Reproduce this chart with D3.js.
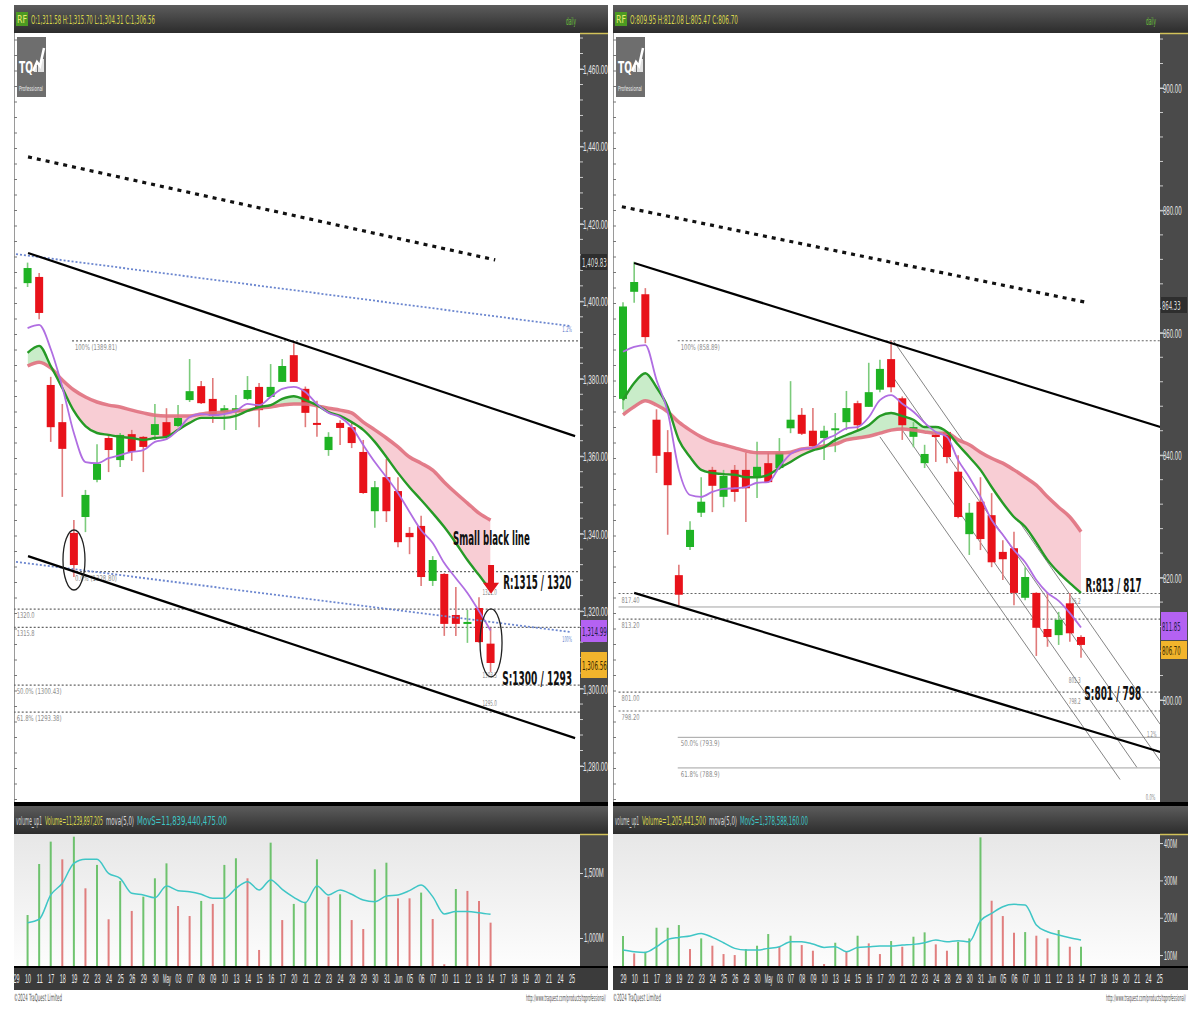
<!DOCTYPE html>
<html><head><meta charset="utf-8">
<script src="https://cdn.jsdelivr.net/npm/d3@7/dist/d3.min.js"></script>
<style>body{margin:0;background:#fff;}svg{display:block;font-family:"Liberation Sans Narrow","DejaVu Sans Condensed","Liberation Sans",sans-serif;}</style>
</head><body><svg id="c" width="1200" height="1011"></svg>
<script>
// ---------------- DATA ----------------
const dateLabels = ["29","10","11","17","18","19","22","23","24","25","26","29","30","May","03","07","08","09","10","13","14","15","16","17","20","21","22","23","24","28","29","30","31","Jun","05","06","07","10","11","12","13","14","17","18","19","20","21","24","25"];

// Left chart (price)
const leftOpen  = [1404.7,1406.3,1378.4,1368.8,1340.2,1344.3,1353.9,1364.7,1359.0,1365.7,1365.0,1365.5,1368.8,1367.8,1374.5,1378.1,1374.8,1371.4,1371.4,1374.8,1377.9,1375.3,1379.2,1386.1,1377.4,1368.6,1361.6,1368.6,1367.5,1361.1,1345.8,1354.6,1351.0,1340.2,1342.0,1327.8,1329.6,1319.0,1316.7,1320.8,1311.6];
const leftHigh  = [1410.0,1407.3,1380.5,1373.5,1343.5,1351.3,1363.1,1365.5,1366.0,1366.8,1365.2,1373.5,1372.4,1373.2,1385.1,1379.4,1380.2,1373.2,1375.8,1380.7,1378.9,1383.8,1385.1,1389.2,1378.0,1374.3,1366.2,1369.3,1368.6,1364.2,1353.6,1359.3,1354.6,1341.7,1344.6,1334.2,1329.8,1326.2,1320.3,1323.6,1315.7];
const leftLow   = [1403.7,1395.4,1363.7,1349.5,1328.8,1340.4,1353.3,1355.9,1357.2,1358.8,1355.9,1364.2,1364.2,1367.5,1374.0,1373.5,1368.6,1366.8,1366.8,1374.5,1367.5,1375.3,1379.2,1379.2,1367.5,1365.0,1360.1,1362.9,1362.1,1350.3,1341.5,1343.0,1336.5,1334.7,1326.5,1326.5,1313.6,1313.6,1311.8,1311.8,1304.3];
const leftClose = [1408.6,1397.0,1367.5,1361.9,1331.9,1350.0,1358.0,1361.6,1365.5,1361.1,1362.4,1368.3,1365.0,1369.9,1376.8,1373.7,1370.4,1372.4,1372.4,1377.1,1371.9,1377.9,1383.3,1379.2,1371.2,1368.1,1365.0,1367.3,1363.4,1350.5,1352.0,1345.8,1337.8,1339.1,1328.8,1333.2,1316.7,1316.7,1317.2,1312.0,1306.6];
const leftMaFast = [1393.1,1393.9,1387.7,1377.9,1366.0,1358.5,1358.2,1359.5,1360.3,1361.1,1361.6,1363.7,1364.4,1366.8,1370.1,1370.9,1370.6,1370.9,1371.7,1373.5,1373.2,1375.3,1377.4,1377.9,1376.6,1373.5,1371.2,1370.1,1367.5,1362.9,1358.5,1354.6,1350.5,1345.6,1340.9,1337.6,1332.4,1328.5,1324.7,1320.0,1315.0];
const leftMaMid  = [1386.7,1388.5,1383.3,1377.6,1371.7,1367.8,1366.0,1365.5,1365.0,1364.7,1364.2,1364.7,1365.0,1366.8,1368.6,1369.9,1369.9,1369.9,1370.4,1371.7,1372.7,1373.2,1374.8,1375.5,1374.5,1373.2,1371.4,1370.4,1368.8,1366.8,1363.7,1359.8,1355.7,1352.0,1348.7,1345.3,1341.7,1337.6,1333.2,1329.3,1325.4];
const leftMaSlow = [1383.3,1384.3,1382.8,1379.7,1377.1,1375.3,1374.0,1373.2,1372.7,1371.9,1371.2,1370.6,1370.4,1370.4,1370.4,1370.9,1371.2,1371.4,1371.7,1371.9,1372.4,1372.7,1373.2,1373.5,1373.5,1373.0,1372.4,1371.9,1371.2,1368.8,1366.8,1364.7,1362.4,1359.8,1358.2,1356.4,1353.3,1350.5,1347.9,1345.3,1343.5];
const leftVolume = [1177,1569,1741,1605,1779,1382,1562,1144,1438,1208,1318,1459,1574,1246,1169,1285,1262,1562,1613,1459,908,1733,1138,1262,1279,1605,1318,1336,1138,1069,1528,1579,1305,1305,1349,1146,798,1377,1362,1285,1118];
const leftVolumeUp = [1,1,1,0,1,0,1,0,1,0,1,1,1,0,0,1,0,1,1,0,0,1,0,1,1,1,0,1,0,0,1,1,0,0,1,0,0,1,0,0,0];
const leftVolumeMa = [1118,1144,1331,1421,1574,1605,1605,1497,1459,1344,1331,1310,1400,1364,1356,1336,1305,1305,1382,1433,1369,1446,1374,1313,1272,1400,1331,1369,1336,1292,1279,1323,1331,1364,1408,1318,1185,1203,1203,1195,1182];
const leftPriceTicks = [1280,1300,1320,1340,1360,1380,1400,1420,1440,1460];
const leftVolumeTicks = [1000,1500];
const leftLevels = [1389.8,1330.2,1320.5,1315.8,1300.9,1293.9];
const leftLevelLabels = ["100% (1389.81)","0.0% (1328.80)","1320.0","1315.8","50.0% (1300.43)","61.8% (1293.38)"];
const leftSmallLabels = [[40.3,1324.2,"1321.0"],[40.3,1302.6,"1303.5"],[40.3,1295.6,"1295.0"],[47.2,1392.0,"1.2%"],[47.2,1312.0,"100%"]];
const leftTrendDotted = [[1.04,1437.3],[41.4,1410.7]];
const leftTrendUpper = [[1.04,1412.5],[48.3,1365.2]];
const leftTrendLower = [[1.04,1334.2],[48.3,1287.2]];
const leftBlueUpper = [[0,1412.2],[47.9,1393.6]];
const leftBlueLower = [[0,1332.7],[47.9,1314.6]];

// Right chart (price)
const rightOpen  = [849.2,866.7,866.3,845.8,840.5,820.4,825.0,830.6,837.6,833.2,837.6,837.6,836.4,838.7,837.9,844.4,846.6,844.0,842.8,844.1,845.4,848.5,847.9,850.7,855.7,849.3,843.0,838.7,843.3,843.8,837.3,827.1,832.4,830.2,824.2,824.8,816.7,817.5,811.6,810.6,815.8,810.3];
const rightHigh  = [865.0,871.6,867.3,847.5,844.1,822.1,829.2,836.4,838.1,837.6,838.4,840.4,842.2,840.4,842.8,852.1,847.7,847.7,844.8,846.9,850.5,848.9,855.1,855.6,858.7,849.6,845.4,841.7,843.8,843.9,840.0,832.2,836.4,833.8,826.1,827.5,821.7,817.6,817.5,814.4,817.5,810.6];
const rightLow   = [847.5,864.9,858.3,837.1,827.0,815.5,824.5,829.9,830.7,831.5,832.4,829.1,833.0,835.5,837.6,843.6,843.3,840.8,839.2,840.5,844.1,844.1,847.9,850.3,850.3,842.5,841.3,837.9,838.9,838.7,829.7,823.7,824.5,821.7,819.6,815.5,816.3,807.2,808.7,809.0,809.5,806.9];
const rightClose = [864.3,868.3,859.3,839.9,835.1,817.2,827.8,832.4,835.0,836.6,834.0,834.6,838.1,835.6,840.4,845.8,843.5,841.5,844.0,844.4,847.7,844.9,850.3,854.1,851.1,844.9,844.6,840.2,843.0,839.7,829.9,830.6,826.3,822.5,823.0,817.5,820.1,811.8,810.3,813.1,810.9,809.0];
const rightMaFast = [856.9,857.7,858.0,852.3,847.1,837.6,833.5,833.2,834.0,834.5,834.6,834.8,835.5,835.6,838.1,840.2,841.0,841.2,842.5,843.3,844.4,844.6,846.2,849.0,849.8,848.4,847.1,845.3,843.8,843.0,839.2,836.4,833.2,829.4,827.0,824.5,822.5,819.6,817.5,816.2,814.2,811.85];
const rightMaMid  = [849.0,851.8,853.4,851.1,847.9,842.5,839.7,837.6,837.1,836.9,836.8,836.4,836.4,836.8,837.9,838.9,840.0,840.8,841.3,842.5,843.3,844.0,844.9,846.4,846.9,846.4,845.8,844.6,844.6,843.8,841.7,839.7,837.6,834.8,832.2,829.9,828.3,825.7,822.9,820.8,819.1,817.5];
const rightMaSlow = [846.6,847.9,848.9,848.2,847.1,845.4,844.1,843.0,842.2,841.7,841.2,840.7,840.4,840.4,840.4,840.5,841.0,841.2,841.5,841.8,842.5,842.8,843.1,843.6,844.1,844.3,844.1,843.8,843.6,843.6,842.5,841.7,840.5,839.5,838.7,837.6,836.4,835.1,833.2,831.5,829.9,827.5];
const rightVolume = [150.9,104.5,108.9,173.2,173.2,180.4,116.1,144.7,125.0,102.7,100.0,116.1,125.0,156.3,122.3,151.8,126.8,111.6,75.9,133.0,108.9,151.8,131.3,102.7,137.5,122.3,149.1,160.8,128.6,111.6,135.7,144.7,415.3,245.5,204.5,159.8,161.6,151.8,144.7,167.0,122.3,122.3];
const rightVolumeUp = [1,0,1,1,1,1,0,1,0,0,0,1,1,1,0,1,0,0,0,1,0,1,0,0,1,0,1,1,0,0,1,1,1,0,0,0,1,0,0,1,0,1];
const rightVolumeMa = [113.4,108.9,107.1,122.3,141.9,147.3,150.9,158.0,147.3,133.0,117.9,113.4,113.4,117.9,122.3,135.7,135.7,129.5,120.5,122.3,108.9,120.5,122.3,124.1,124.1,126.8,128.6,133.0,140.2,135.7,138.4,135.7,192.0,211.6,229.5,235.8,233.9,180.4,162.5,153.6,146.4,140.2];
const rightPriceTicks = [800,820,840,860,880,900];
const rightVolumeTicks = [100,200,300,400];
const rightLevels = [858.7,817.4,813.2,801.3,798.2];
const rightLevelLabels = ["100% (858.89)","817.40","813.20","801.00","798.20"];
const rightThinLevels = [815.2,793.9,788.9];
const rightThinLabels = ["","50.0% (793.9)","61.8% (788.9)"];
const rightSmallLabels = [[39.9,819.8,"817.4"],[39.9,815.7,"815.2"],[39.9,802.8,"801.3"],[39.9,799.3,"798.2"],[46.9,794.0,"1.2%"],[46.8,783.6,"0.0%"]];
const rightTrendDotted = [[-0.1,880.6],[41.4,865.0]];
const rightTrendUpper = [[1.0,871.4],[48.1,844.6]];
const rightTrendLower = [[1.0,817.5],[48.1,791.5]];
const rightChannel = [[[24.2,858.7],[48.1,796.0]],[[24.2,852.7],[48.1,790.0]],[[24.2,846.2],[46.0,789.0]],[[23.0,843.0],[44.5,787.0]]];

// ---------------- DRAW ----------------
const svg = d3.select('#c');
const defs = svg.append('defs');
const hg = defs.append('linearGradient').attr('id','hdr').attr('x1',0).attr('y1',0).attr('x2',0).attr('y2',1);
hg.append('stop').attr('offset',0).attr('stop-color','#5c5c5c');
hg.append('stop').attr('offset',1).attr('stop-color','#2c2c2c');
const vg = defs.append('linearGradient').attr('id','volbg').attr('x1',0).attr('y1',0).attr('x2',0).attr('y2',1);
vg.append('stop').attr('offset',0).attr('stop-color','#e7e7e7');
vg.append('stop').attr('offset',1).attr('stop-color','#fdfdfd');

// condensed text: squeezed horizontally to width w via transform
function squeeze(t, x, y, w, anchor) {
  const nat = t.node().getComputedTextLength() || 1;
  const ww = w || nat;
  let x0 = x;
  if (anchor === 'end') x0 = x - ww; else if (anchor === 'middle') x0 = x - ww / 2;
  t.attr('x', null).attr('y', null).attr('dy', null).attr('text-anchor', 'start')
   .attr('transform', `translate(${x0},${y}) scale(${ww / nat},1)`);
  return t;
}
function txt(g, x, y, s, o) {
  const t = g.append('text').text(s).attr('font-size', o.size || 10).attr('fill', o.fill || '#000');
  if (o.weight) t.attr('font-weight', o.weight);
  return squeeze(t, x, y, o.w, o.anchor);
}

function drawPanel(P) {
  const g = svg.append('g');
  const W = P.axisX - P.left;
  // header
  g.append('rect').attr('x', P.left).attr('y', 5).attr('width', P.right - P.left).attr('height', 28).attr('fill', 'url(#hdr)');
  g.append('rect').attr('x', P.left + 2).attr('y', 12).attr('width', 12).attr('height', 14).attr('fill', '#4c9a22');
  txt(g, P.left + 3, 23, 'RF', {size: 10, fill: '#e8e870', w: 10});
  txt(g, P.left + 17, 24, P.header, {size: 12, fill: '#d9d64a', w: P.headerW});
  txt(g, P.axisX - 4, 25, 'daily', {size: 11, fill: '#6cc43a', w: 10, anchor: 'end'});
  // chart & axis backgrounds
  g.append('rect').attr('x', P.left).attr('y', 33).attr('width', W).attr('height', 770).attr('fill', '#fff');
  g.append('rect').attr('x', P.axisX).attr('y', 33).attr('width', P.right - P.axisX).attr('height', 770).attr('fill', '#4a4a4a');
  g.append('line').attr('x1', P.axisX).attr('x2', P.right).attr('y1', 33.5).attr('y2', 33.5).attr('stroke', '#d2c25a').attr('stroke-width', 1.5);
  g.append('line').attr('x1', P.left + 0.5).attr('x2', P.left + 0.5).attr('y1', 33).attr('y2', 803).attr('stroke', '#9a9a9a');

  const x = d3.scaleLinear().domain([0, 48]).range(P.xRange);
  const y = d3.scaleLinear().domain(P.yDomain).range(P.yRange);
  const cx = i => x(i + P.off);
  const pt = p => [x(p[0]), y(p[1])];

  const clipId = 'clip' + P.id;
  defs.append('clipPath').attr('id', clipId).append('rect').attr('x', P.left).attr('y', 33).attr('width', W).attr('height', 770);
  const c = g.append('g').attr('clip-path', `url(#${clipId})`);

  d3.range(40, 800, 15.5).forEach(yy => c.append('line').attr('x1', P.left).attr('x2', P.left + 3).attr('y1', yy).attr('y2', yy).attr('stroke', '#777'));

  // logo
  const lg = g.append('g');
  lg.append('rect').attr('x', P.left + 3).attr('y', 37).attr('width', 29).attr('height', 60).attr('fill', '#6e6e6e');
  txt(lg, P.left + 5, 73, 'TQ', {size: 16, fill: '#fff', weight: 'bold', w: 14});
  lg.append('path').attr('d', `M${P.left+19},71 L${P.left+23},62 L${P.left+26},66 L${P.left+30},48`).attr('stroke', '#fff').attr('stroke-width', 2.5).attr('fill', 'none');
  [[20,66,3,6],[24,63,3,9],[27,59,3,13]].forEach(b => lg.append('rect').attr('x', P.left + b[0]).attr('y', b[1]).attr('width', b[2]).attr('height', b[3]).attr('fill', '#fff').attr('opacity', 0.8));
  txt(lg, P.left + 5, 91, 'Professional', {size: 7, fill: '#eee', w: 24});

  // horizontal levels
  P.levels.forEach((v, k) => {
    const x0 = P.levelStart[k];
    c.append('line').attr('x1', x(x0)).attr('x2', P.axisX).attr('y1', y(v)).attr('y2', y(v))
      .attr('stroke', '#666').attr('stroke-width', 1.2).attr('stroke-dasharray', '2,2');
    if (P.levelLabels[k]) txt(c, x(x0) + 3, y(v) + 9, P.levelLabels[k], {size: 8, fill: '#8a8a8a', w: P.levelLabels[k].length * 3.0});
  });
  (P.thinLevels || []).forEach((v, k) => {
    c.append('line').attr('x1', x(P.thinStart[k])).attr('x2', P.axisX).attr('y1', y(v)).attr('y2', y(v)).attr('stroke', '#8a8a8a').attr('stroke-width', 0.8);
    if (P.thinLabels[k]) txt(c, x(P.thinStart[k]) + 3, y(v) + 9, P.thinLabels[k], {size: 8, fill: '#8a8a8a', w: P.thinLabels[k].length * 3.0});
  });
  (P.small || []).forEach(s => txt(c, x(s[0]), y(s[1]), s[2], {size: 8, fill: s[2].indexOf('%') > 0 && P.id === 'L' ? '#6b86cf' : '#8a8a8a', w: s[2].length * 2.4}));

  // channel lines (thin)
  (P.channel || []).forEach(ln => c.append('line').attr('x1', pt(ln[0])[0]).attr('y1', pt(ln[0])[1]).attr('x2', pt(ln[1])[0]).attr('y2', pt(ln[1])[1]).attr('stroke', '#777').attr('stroke-width', 0.9));

  // MA fill
  const n = P.close.length;
  const idx = d3.range(n);
  const aboveId = 'above' + P.id, belowId = 'below' + P.id;
  defs.append('clipPath').attr('id', aboveId).append('path').attr('d', d3.area().x(i => cx(i)).y0(33).y1(i => y(P.slow[i])).curve(d3.curveMonotoneX)(idx));
  defs.append('clipPath').attr('id', belowId).append('path').attr('d', d3.area().x(i => cx(i)).y0(803).y1(i => y(P.slow[i])).curve(d3.curveMonotoneX)(idx));
  const band = d3.area().x(i => cx(i)).y0(i => y(P.slow[i])).y1(i => y(P.mid[i])).curve(d3.curveMonotoneX);
  c.append('path').attr('d', band(idx)).attr('fill', '#c9ecc9').attr('clip-path', `url(#${aboveId})`);
  c.append('path').attr('d', band(idx)).attr('fill', '#f8cdd4').attr('clip-path', `url(#${belowId})`);

  // candles
  idx.forEach(i => {
    const up = P.close[i] >= P.open[i];
    const col = up ? '#1fb324' : '#e8121a';
    c.append('line').attr('x1', cx(i)).attr('x2', cx(i)).attr('y1', y(P.high[i])).attr('y2', y(P.low[i]))
      .attr('stroke', up ? '#7ccb7c' : '#e07a7a').attr('stroke-width', 1.6);
    const top = y(Math.max(P.open[i], P.close[i])), bot = y(Math.min(P.open[i], P.close[i]));
    c.append('rect').attr('x', cx(i) - 4).attr('y', top).attr('width', 8).attr('height', Math.max(2, bot - top)).attr('fill', col);
  });

  // MA lines
  const line = arr => d3.line().x(i => cx(i)).y(i => y(arr[i])).curve(d3.curveMonotoneX)(idx);
  c.append('path').attr('d', line(P.slow)).attr('fill', 'none').attr('stroke', '#e0707e').attr('stroke-width', 3.5).attr('opacity', 0.9);
  c.append('path').attr('d', line(P.mid)).attr('fill', 'none').attr('stroke', '#269a26').attr('stroke-width', 2.4);
  c.append('path').attr('d', line(P.fast)).attr('fill', 'none').attr('stroke', '#b06ee2').attr('stroke-width', 1.8);

  // trend lines
  const seg = (p, st) => {
    const l = c.append('line').attr('x1', pt(p[0])[0]).attr('y1', pt(p[0])[1]).attr('x2', pt(p[1])[0]).attr('y2', pt(p[1])[1]);
    Object.entries(st).forEach(([k, v]) => l.attr(k, v));
  };
  (P.blue || []).forEach(p => seg(p, {stroke: '#6b86cf', 'stroke-width': 1.8, 'stroke-dasharray': '2,2'}));
  seg(P.trendDotted, {stroke: '#111', 'stroke-width': 3.2, 'stroke-dasharray': '4,5'});
  seg(P.trendUpper, {stroke: '#000', 'stroke-width': 2.2});
  seg(P.trendLower, {stroke: '#000', 'stroke-width': 2.2});

  // annotations
  (P.notes || []).forEach(nt => txt(c, x(nt[0]), y(nt[1]), nt[2], {size: 20, weight: 'bold', fill: '#111', w: nt[3]}));
  (P.ellipses || []).forEach(e => c.append('ellipse').attr('cx', x(e[0])).attr('cy', y(e[1])).attr('rx', 11).attr('ry', e[2]).attr('fill', 'none').attr('stroke', '#222').attr('stroke-width', 1.3));
  (P.arrows || []).forEach(a => {
    const ax = x(a[0]), y0 = y(a[1]), y1 = y(a[2]);
    c.append('path').attr('d', `M${ax-3},${y0} L${ax+3},${y0} L${ax+3},${y1-11} L${ax+8},${y1-11} L${ax},${y1} L${ax-8},${y1-11} L${ax-3},${y1-11} Z`).attr('fill', '#e3141b');
  });

  // price axis
  const f2 = d3.format(',.2f');
  const ax = g.append('g').attr('transform', `translate(${P.axisX},0)`)
    .call(d3.axisRight(y).tickValues(P.ticks).tickSize(4).tickFormat(f2));
  ax.select('.domain').remove();
  ax.selectAll('line').attr('stroke', '#ddd');
  ax.selectAll('text').attr('fill', '#e6e6e6').attr('font-size', 13).attr('font-family', 'inherit')
    .each(function (d) { squeeze(d3.select(this), 3, 4.5, f2(d).length * 3.1); });
  const minor = d3.range(P.yDomain[0], P.yDomain[1] + 20, 4).filter(v => y(v) > 36 && y(v) < 800);
  minor.forEach(v => g.append('line').attr('x1', P.axisX).attr('x2', P.axisX + 3).attr('y1', y(v)).attr('y2', y(v)).attr('stroke', '#ccc'));
  P.markers.forEach(m => {
    g.append('rect').attr('x', P.axisX + 1).attr('y', m[1] - m[4] / 2).attr('width', P.right - P.axisX - 2).attr('height', m[4]).attr('fill', m[2]);
    txt(g, P.axisX + 2, m[1] + 5, m[0], {size: 12, fill: m[3], w: m[0].length * 3.1});
  });

  // ----- volume -----
  g.append('rect').attr('x', P.left).attr('y', 802).attr('width', P.right - P.left).attr('height', 4).attr('fill', '#000');
  g.append('rect').attr('x', P.left).attr('y', 806).attr('width', P.right - P.left).attr('height', 28).attr('fill', 'url(#hdr)');
  let hx = P.left + 2;
  P.volHeader.forEach(s => { txt(g, hx, 825, s[0], {size: 12, fill: s[1], w: s[2]}); hx += s[2] + 3; });
  g.append('rect').attr('x', P.left).attr('y', 834).attr('width', W).attr('height', 133).attr('fill', 'url(#volbg)');
  g.append('rect').attr('x', P.axisX).attr('y', 834).attr('width', P.right - P.axisX).attr('height', 133).attr('fill', '#4a4a4a');
  g.append('line').attr('x1', P.axisX).attr('x2', P.right).attr('y1', 834.5).attr('y2', 834.5).attr('stroke', '#d2c25a').attr('stroke-width', 1.5);
  const vy = d3.scaleLinear().domain(P.volDomain).range([967, 835]);
  P.volume.forEach((v, i) => g.append('line').attr('x1', cx(i)).attr('x2', cx(i)).attr('y1', 967).attr('y2', vy(v))
    .attr('stroke', P.volUp[i] ? '#58bb58' : '#dd6a6a').attr('stroke-width', 2).attr('opacity', 0.85));
  g.append('path').attr('d', d3.line().x(i => cx(i)).y(i => vy(P.volMa[i])).curve(d3.curveMonotoneX)(idx))
    .attr('fill', 'none').attr('stroke', '#3fc6c6').attr('stroke-width', 1.5);
  const vf = d => d3.format(',')(d) + 'M';
  const vax = g.append('g').attr('transform', `translate(${P.axisX},0)`)
    .call(d3.axisRight(vy).tickValues(P.volTicks).tickSize(3).tickFormat(vf));
  vax.select('.domain').remove();
  vax.selectAll('line').attr('stroke', '#ddd');
  vax.selectAll('text').attr('fill', '#e6e6e6').attr('font-size', 12).attr('font-family', 'inherit')
    .each(function (d) { squeeze(d3.select(this), 4, 4, vf(d).length * 3.3); });
  // date bar
  g.append('rect').attr('x', P.left).attr('y', 966).attr('width', P.right - P.left).attr('height', 2.5).attr('fill', '#000');
  g.append('rect').attr('x', P.left).attr('y', 968).attr('width', P.right - P.left).attr('height', 22).attr('fill', '#3b3b3b');
  const dax = g.append('g').attr('transform', 'translate(0,968)')
    .call(d3.axisBottom(x).tickValues(d3.range(dateLabels.length)).tickSize(0).tickFormat(i => dateLabels[i]));
  dax.select('.domain').remove();
  dax.selectAll('text').attr('fill', '#eee').attr('font-size', 12).attr('font-family', 'inherit')
    .each(function (d) { squeeze(d3.select(this), 0, 15, dateLabels[d].length > 2 ? 8 : 6, 'middle'); });
  txt(g, P.left, 1001, '©2024 TraQuest Limited', {size: 10, fill: '#555', w: 48});
  txt(g, P.right - 2, 1001, 'http://www.traquest.com/products/tqprofessional/', {size: 9, fill: '#555', w: 80, anchor: 'end'});
}

drawPanel({
  id: 'L', left: 14, axisX: 580, right: 608,
  header: 'O:1,311.58 H:1,315.70 L:1,304.31 C:1,306.56', headerW: 124,
  xRange: [16, 571.6], off: 1, yDomain: [1280, 1460], yRange: [766, 69],
  open: leftOpen, high: leftHigh, low: leftLow, close: leftClose,
  fast: leftMaFast, mid: leftMaMid, slow: leftMaSlow,
  levels: leftLevels, levelLabels: leftLevelLabels, levelStart: [4.84, 4.84, -0.2, -0.2, -0.2, -0.2],
  small: leftSmallLabels,
  trendDotted: leftTrendDotted, trendUpper: leftTrendUpper, trendLower: leftTrendLower,
  blue: [leftBlueUpper, leftBlueLower],
  notes: [[37.75, 1337.1, 'Small black line', 77], [42.1, 1325.6, 'R:1315 / 1320', 68], [42.0, 1300.8, 'S:1300 / 1293', 70]],
  ellipses: [[5.01, 1333.2, 30], [41.04, 1311.8, 34]],
  arrows: [[41.04, 1331.9, 1324.5]],
  ticks: leftPriceTicks,
  markers: [['1,409.83', 262, '#2e2e2e', '#ddd', 16], ['1,314.99', 631, '#b462f2', '#22204a', 22], ['1,306.56', 665, '#f2b42c', '#3a2a00', 26]],
  volHeader: [['volume_up1', '#d8d8d8', 26], ['Volume=11,239,897,205', '#d9d64a', 58], ['mova(5,0)', '#d8d8d8', 28], ['MovS=11,839,440,475.00', '#3cc6c6', 90]],
  volume: leftVolume, volUp: leftVolumeUp, volMa: leftVolumeMa, volDomain: [777, 1792], volTicks: leftVolumeTicks
});

drawPanel({
  id: 'R', left: 613, axisX: 1160, right: 1188,
  header: 'O:809.95 H:812.08 L:805.47 C:806.70', headerW: 108,
  xRange: [623, 1159.2], off: 0, yDomain: [800, 900], yRange: [700, 88],
  open: rightOpen, high: rightHigh, low: rightLow, close: rightClose,
  fast: rightMaFast, mid: rightMaMid, slow: rightMaSlow,
  levels: rightLevels, levelLabels: rightLevelLabels, levelStart: [4.9, -0.4, -0.4, -0.4, -0.4],
  thinLevels: rightThinLevels, thinLabels: rightThinLabels, thinStart: [-0.4, 4.9, 4.9],
  small: rightSmallLabels,
  channel: rightChannel,
  trendDotted: rightTrendDotted, trendUpper: rightTrendUpper, trendLower: rightTrendLower,
  notes: [[41.4, 817.6, 'R:813 / 817', 56], [41.3, 800.0, 'S:801 / 798', 57]],
  ticks: rightPriceTicks,
  markers: [['864.33', 305, '#2e2e2e', '#ddd', 16], ['811.85', 626, '#b462f2', '#22204a', 28], ['806.70', 650, '#f2b42c', '#3a2a00', 18]],
  volHeader: [['volume_up1', '#d8d8d8', 24], ['Volume=1,205,441,500', '#d9d64a', 64], ['mova(5,0)', '#d8d8d8', 28], ['MovS=1,378,588,160.00', '#3cc6c6', 68]],
  volume: rightVolume, volUp: rightVolumeUp, volMa: rightVolumeMa, volDomain: [68, 421.6], volTicks: rightVolumeTicks
});
</script></body></html>
